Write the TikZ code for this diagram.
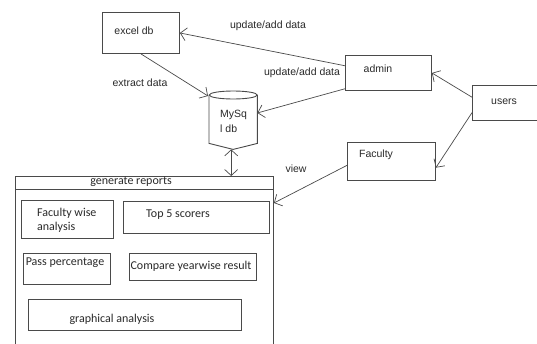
\documentclass[tikz,border=0pt]{standalone}
\usepackage{fontspec}
\setmainfont{Liberation Sans}
\newfontfamily\calib{Carlito}
\usetikzlibrary{arrows.meta,calc}
\definecolor{ln}{HTML}{4A4A4A}
\definecolor{tx}{HTML}{2A2A2A}
\tikzset{
  box/.style={draw=ln, line width=0.9pt, rectangle, inner sep=0pt, anchor=north west},
  lbl/.style={text=tx, font=\fontsize{10.5}{12}\selectfont, inner sep=0pt},
  clbl/.style={text=tx, font=\calib\fontsize{12}{14}\selectfont, inner sep=0pt},
  conn/.style={draw=ln, line width=0.7pt, -{Straight Barb[length=6pt,width=13pt]}},
  dconn/.style={draw=ln, line width=0.7pt, {Straight Barb[length=6pt,width=13pt]}-{Straight Barb[length=6pt,width=13pt]}}
}
\begin{document}
\begin{tikzpicture}[x=1pt,y=-1pt]
\useasboundingbox (0,0) rectangle (537,343);
\fill[white] (0,0) rectangle (537,343);
\clip (0,0) rectangle (537,343);
% top-level boxes
\node[box, minimum width=77pt, minimum height=41pt] (excel) at (102,12) {};
\node[box, minimum width=86pt, minimum height=35pt] (admin) at (345,55) {};
\node[box, minimum width=75pt, minimum height=35pt] (users) at (472,85) {};
\node[box, minimum width=88pt, minimum height=38pt] (faculty) at (347,142) {};
% MySQL cylinder
\node[inner sep=0pt, minimum width=48pt, minimum height=54pt, anchor=north west] (mysql) at (209,95) {};
\draw[ln, line width=0.9pt] (mysql.north west) -- ($(mysql.south west)+(0,-6)$) -- (mysql.south) -- ($(mysql.south east)+(0,-6)$) -- (mysql.north east);
\draw[ln, line width=0.9pt] (mysql.north) ellipse [x radius=24pt, y radius=4pt];
% reports
\node[box, minimum width=258pt, minimum height=180pt] (reports) at (15,176) {};
\draw[ln, line width=0.9pt] ($(reports.north west)+(0,13)$) -- ($(reports.north east)+(0,13)$);
\node[box, minimum width=92pt, minimum height=38pt] (fwa) at (21,200) {};
\node[box, minimum width=146pt, minimum height=32pt] (top5) at (123,201) {};
\node[box, minimum width=87pt, minimum height=31pt] (pass) at (23,253) {};
\node[box, minimum width=127pt, minimum height=27pt] (comp) at (129,253) {};
\node[box, minimum width=213pt, minimum height=31pt] (graph) at (28,299) {};
% texts
\node[lbl] (t-excel) at (134,31) {excel db};
\node[lbl] (t-admin) at (378,69) {admin};
\node[lbl] (t-users) at (504,102) {users};
\node[lbl] (t-fac) at (376,155) {Faculty};
\node[lbl, anchor=west] (t-my1) at (220,115) {MySq};
\node[lbl, anchor=west] (t-my2) at (220,129) {l db};
\node[clbl] (t-rep) at (131,182) {generate reports};
\node[clbl, anchor=west] (t-fwa1) at (37,213) {Faculty wise};
\node[clbl, anchor=west] (t-fwa2) at (37,227) {analysis};
\node[clbl] (t-top) at (178,215) {Top 5 scorers};
\node[clbl] (t-pass) at (65,263) {Pass percentage};
\node[clbl] (t-comp) at (191,266) {Compare yearwise result};
\node[clbl] (t-graph) at (112,319) {graphical analysis};
% connector labels
\node[lbl] (l-up1) at (268,26) {update/add data};
\node[lbl] (l-up2) at (302,73) {update/add data};
\node[lbl] (l-ext) at (140,83) {extract data};
\node[lbl] (l-view) at (296,169) {view};
% connectors
\draw[conn] (excel.south) -- ($(mysql.north west)+(-1,1)$);
\draw[conn] ($(admin.north west)!0.3!(admin.south west)$) -- (excel.east);
\draw[conn] ($(admin.north west)!0.94!(admin.south west)$) -- ($(mysql.north east)!0.33!(mysql.south east)$);
\draw[conn] ($(users.north west)!0.34!(users.south west)$) -- (admin.east);
\draw[conn] ($(users.north west)!0.77!(users.south west)$) -- ($(faculty.north east)!0.66!(faculty.south east)$);
\draw[conn] ($(faculty.north west)!0.6!(faculty.south west)$) -- ($(reports.north east)+(0,27)$);
\coordinate (dbot) at ($(mysql.south)+(-2,0)$);
\draw[dconn] (dbot) -- (dbot |- reports.north);
\end{tikzpicture}
\end{document}
